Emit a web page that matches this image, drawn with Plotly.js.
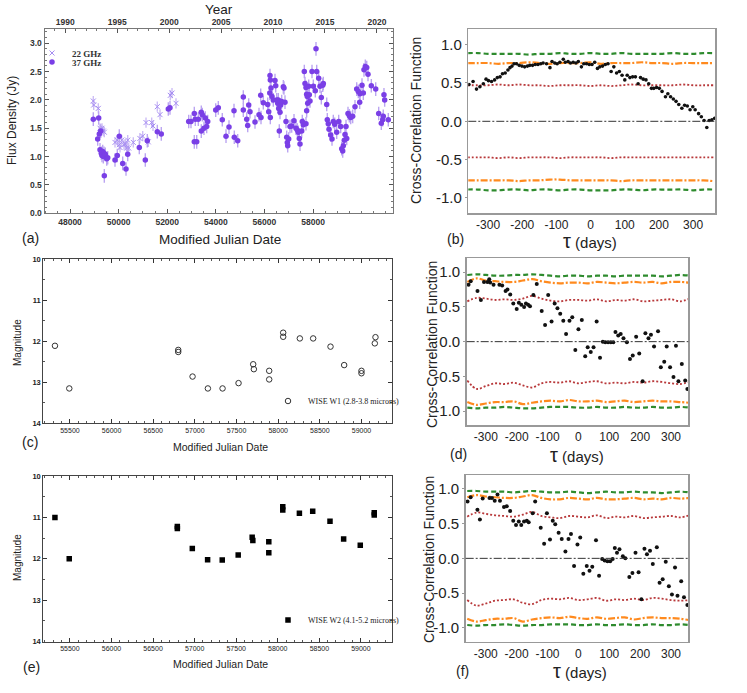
<!DOCTYPE html>
<html>
<head>
<meta charset="utf-8">
<script src="https://cdn.plot.ly/plotly-3.0.1.min.js"></script>
<style>html,body{margin:0;padding:0;background:#fff;}#plot{width:747px;height:693px;}</style>
</head>
<body>
<div id="plot"></div>
<script>
// ---------------- DATA ----------------
// Panel (a): radio light curves (x in the MJD units of the bottom axis as drawn)
const mjd37 = [48958,49139,49180,49205,49263,49234,49287,49345,49316,49398,49370,49452,49411,49510,49551,49851,49946,50028,50168,50304,50374,50851,51098,51180,51592,51756,52044,52114,52884,52978,53114,53114,53213,53155,53279,53402,53443,53402,53513,53567,53625,53666,53995,54102,
 54266,54419,54542,54748,54760,54900,55131,55131,55271,55312,55353,55406,55612,55777,55847,55859,55954,56135,56176,56229,56242,56270,56220,56242,56312,56365,56435,56464,56505,56546,56571,56587,56612,56641,56670,56711,56777,56805,56846,56888,56916,56941,56958,56998,57052,57122,57217,57299,57353,57394,57435,57464,57534,57558,57600,57641,57669,57710,57738,57764,57780,57738,57710,57822,57846,57875,57958,58011,58122,58094,58151,58233,58287,58341,58398,58423,58563,58587,58628,58657,58727,58781,58834,58892,58974,59056,59139,59180,59221,59246,59287,59316,59357,59386,59439,59493,59550,59632,59727,59797,59863,59933,60015,59920,60069,60097,60151,60209,60262,60398,60579,60702,60809,60866,60919,60948,60890,61097];
const flux37 = [1.66,1.31,1.68,1.40,1.45,1.12,1.06,1.09,1.02,1.06,1.00,1.04,0.66,0.96,0.98,0.94,1.02,1.36,0.88,0.78,1.04,1.16,0.94,1.28,1.44,1.40,1.84,1.86,1.62,1.62,1.76,1.26,1.26,1.66,1.66,1.78,1.74,1.45,1.50,1.68,1.53,1.62,1.82,1.86,
 1.65,1.36,1.52,1.81,1.34,1.28,2.05,1.82,1.66,1.55,1.91,1.79,1.61,1.74,2.08,1.69,1.95,1.92,1.79,2.43,2.35,2.21,2.12,1.69,2.06,2.00,2.34,2.25,2.00,1.94,2.00,1.85,1.45,1.78,1.91,1.97,2.23,2.21,1.96,1.62,1.34,1.25,1.19,1.31,1.53,1.54,1.63,1.50,1.47,1.43,1.32,1.22,1.45,1.62,1.56,2.50,2.29,2.22,2.10,2.06,1.94,1.81,1.58,2.24,2.09,1.98,2.50,2.24,2.90,2.16,2.50,2.38,2.24,2.04,2.26,2.29,1.92,1.65,1.58,1.48,1.38,1.31,1.62,1.57,1.43,1.62,1.53,1.14,1.10,1.19,1.29,1.39,1.53,1.32,1.76,1.72,1.69,1.71,1.88,2.19,2.15,2.11,2.26,1.96,2.12,2.53,2.59,2.57,2.45,2.25,2.19,1.76,1.59,1.65,2.09,2.00,1.71,1.65];
const err37 = 0.12;
const mjd22 = [48958,48975,49164,49234,49316,49370,49411,49851,49946,50028,50057,50127,50221,50275,50333,50374,50415,50604,50875,50991,51127,51221,51361,51415,51592,51703,52127,52197,52361];
const flux22 = [1.98,1.91,1.85,1.50,1.50,1.45,1.43,1.25,1.29,1.21,1.16,1.29,1.21,1.22,1.15,1.29,1.15,1.25,1.32,1.36,1.60,1.26,1.60,1.54,1.88,1.74,2.08,2.12,1.94];
const err22 = 0.09;
const mjdTicksA = [48000,50000,52000,54000,56000,58000];
const yearTicks = [1990,1995,2000,2005,2010,2015,2020];

// Panel (b): cross-correlation
const tauB = [-356,-344,-334,-324,-314,-306,-299,-290,-281,-273,-265,-258,-250,-242,-236,-230,-224,-217,-209,-201,-193,-185,-178,-170,-162,-154,-146,-139,-129,-119,-113,-105,-98,-90,-80,-74,-66,-59,-51,-43,-36,-27,-20,-12,-4,4,12,20,27,35,43,51,60,68,76,84,92,100,107,115,123,131,139,146,154,162,170,178,185,193,201,209,219,226,234,242,250,258,267,275,283,291,299,306,316,324,332,340,347,355,363];
const ccfB = [0.48,0.52,0.42,0.45,0.49,0.55,0.53,0.52,0.54,0.57,0.58,0.62,0.63,0.67,0.70,0.72,0.75,0.75,0.73,0.72,0.71,0.72,0.73,0.73,0.74,0.74,0.75,0.76,0.75,0.70,0.78,0.76,0.75,0.77,0.81,0.77,0.78,0.76,0.77,0.76,0.78,0.71,0.75,0.75,0.74,0.74,0.77,0.69,0.71,0.72,0.74,0.75,0.65,0.71,0.63,0.65,0.60,0.54,0.60,0.57,0.58,0.58,0.49,0.57,0.55,0.54,0.49,0.43,0.43,0.44,0.43,0.39,0.32,0.36,0.32,0.29,0.26,0.22,0.17,0.21,0.20,0.15,0.19,0.15,0.10,0.06,0.01,-0.08,0.01,0.02,0.04];

// Panel (d)
const tauD = [-356,-349,-327,-316,-306,-295,-289,-286,-275,-256,-247,-236,-230,-221,-211,-200,-193,-185,-176,-170,-163,-157,-146,-135,-119,-108,-98,-87,-77,-68,-59,-49,-40,-29,-20,-10,0,11,22,30,40,49,59,70,79,87,96,105,113,120,129,137,146,157,167,176,187,197,208,217,227,235,245,258,267,278,286,297,308,316,324,335,346,353];
const ccfD = [0.82,0.87,0.73,0.60,0.86,0.86,0.90,0.85,0.82,0.82,0.81,0.73,0.75,0.68,0.55,0.47,0.56,0.53,0.50,0.55,0.53,0.51,0.67,0.83,0.44,0.24,0.67,0.29,0.55,0.48,0.40,0.30,0.11,0.30,0.35,-0.12,0.18,0.31,-0.21,-0.08,-0.15,-0.08,0.29,-0.23,0.00,-0.01,-0.01,-0.01,-0.01,0.14,0.09,0.11,0.05,-0.01,-0.25,-0.20,0.07,-0.17,-0.57,0.12,0.05,0.10,-0.07,0.15,-0.37,-0.29,-0.07,-0.37,-0.51,-0.06,-0.57,-0.32,-0.56,-0.68];

// Panel (f)
const tauF = [-359,-349,-327,-319,-310,-288,-280,-271,-262,-254,-241,-232,-221,-211,-202,-193,-185,-176,-167,-161,-148,-140,-122,-111,-102,-92,-83,-75,-64,-54,-42,-32,-24,-14,-3,6,16,27,36,45,57,67,77,85,94,103,111,118,125,133,144,152,165,175,185,195,204,214,222,232,241,254,263,273,283,293,303,313,321,333,342,353];
const ccfF = [0.82,0.88,0.70,0.56,0.86,0.87,0.87,0.83,0.92,0.83,0.74,0.75,0.68,0.54,0.48,0.53,0.48,0.53,0.54,0.52,0.65,0.82,0.44,0.21,0.65,0.27,0.54,0.49,0.37,0.28,0.10,0.28,0.35,-0.11,0.20,0.30,-0.22,-0.11,-0.18,-0.12,0.26,-0.25,-0.01,-0.03,-0.04,-0.04,-0.01,0.15,0.08,0.13,0.03,0.00,-0.27,-0.21,0.08,-0.20,-0.59,0.14,0.06,0.11,-0.08,0.16,-0.35,-0.30,-0.05,-0.40,-0.52,-0.13,-0.54,-0.33,-0.56,-0.67];

// significance bands (tau grid, values per panel)
const tauGrid = [-360,-330,-300,-270,-240,-210,-180,-150,-120,-90,-60,-30,0,30,60,90,120,150,180,210,240,270,300,330,360];
const bGreenUp = [0.89,0.89,0.88,0.88,0.88,0.88,0.87,0.88,0.88,0.89,0.88,0.88,0.89,0.88,0.88,0.89,0.88,0.88,0.88,0.88,0.89,0.88,0.88,0.89,0.89];
const bOrangeUp = [0.76,0.76,0.76,0.75,0.76,0.76,0.77,0.76,0.75,0.76,0.76,0.76,0.77,0.75,0.76,0.76,0.76,0.77,0.76,0.76,0.75,0.76,0.76,0.76,0.76];
const bRedUp = [0.47,0.47,0.47,0.48,0.47,0.48,0.47,0.47,0.46,0.47,0.47,0.47,0.46,0.47,0.46,0.47,0.48,0.47,0.47,0.47,0.47,0.48,0.47,0.47,0.47];
const bRedLo = [-0.47,-0.47,-0.47,-0.48,-0.47,-0.48,-0.47,-0.47,-0.47,-0.48,-0.47,-0.47,-0.47,-0.47,-0.48,-0.47,-0.47,-0.47,-0.47,-0.47,-0.47,-0.47,-0.47,-0.47,-0.47];
const bOrangeLo = [-0.77,-0.77,-0.77,-0.77,-0.77,-0.78,-0.77,-0.77,-0.76,-0.76,-0.77,-0.77,-0.77,-0.77,-0.77,-0.78,-0.77,-0.77,-0.77,-0.77,-0.77,-0.77,-0.77,-0.77,-0.78];
const bGreenLo = [-0.89,-0.89,-0.90,-0.90,-0.89,-0.89,-0.90,-0.89,-0.89,-0.90,-0.89,-0.89,-0.90,-0.90,-0.90,-0.89,-0.89,-0.90,-0.89,-0.89,-0.89,-0.89,-0.90,-0.89,-0.89];

const dGreenUp = [0.96,0.97,0.96,0.95,0.95,0.96,0.96,0.97,0.96,0.95,0.94,0.95,0.95,0.94,0.95,0.95,0.94,0.95,0.95,0.95,0.95,0.94,0.95,0.96,0.95];
const dOrangeUp = [0.86,0.91,0.88,0.87,0.86,0.86,0.88,0.90,0.87,0.85,0.84,0.85,0.85,0.84,0.86,0.85,0.84,0.85,0.86,0.85,0.86,0.84,0.86,0.86,0.85];
const dRedUp = [0.58,0.63,0.62,0.60,0.61,0.60,0.62,0.66,0.62,0.59,0.58,0.60,0.60,0.59,0.61,0.58,0.60,0.59,0.61,0.58,0.59,0.60,0.61,0.58,0.62];
const dRedLo = [-0.56,-0.68,-0.64,-0.60,-0.61,-0.59,-0.63,-0.66,-0.60,-0.58,-0.59,-0.57,-0.60,-0.58,-0.57,-0.60,-0.59,-0.60,-0.58,-0.59,-0.57,-0.58,-0.60,-0.61,-0.58];
const dOrangeLo = [-0.87,-0.91,-0.89,-0.87,-0.87,-0.86,-0.90,-0.88,-0.86,-0.85,-0.86,-0.84,-0.86,-0.86,-0.85,-0.87,-0.86,-0.85,-0.87,-0.86,-0.85,-0.86,-0.86,-0.87,-0.88];
const dGreenLo = [-0.95,-0.96,-0.95,-0.95,-0.94,-0.95,-0.96,-0.96,-0.95,-0.94,-0.94,-0.94,-0.95,-0.95,-0.94,-0.95,-0.95,-0.94,-0.95,-0.95,-0.94,-0.95,-0.95,-0.94,-0.95];

const fGreenUp = [0.97,0.97,0.96,0.96,0.96,0.95,0.96,0.97,0.96,0.95,0.95,0.96,0.95,0.94,0.95,0.96,0.95,0.95,0.96,0.95,0.95,0.94,0.95,0.96,0.95];
const fOrangeUp = [0.88,0.91,0.89,0.88,0.87,0.87,0.89,0.91,0.87,0.85,0.85,0.87,0.86,0.85,0.87,0.85,0.85,0.86,0.87,0.85,0.86,0.85,0.87,0.86,0.87];
const fRedUp = [0.60,0.66,0.64,0.62,0.61,0.60,0.63,0.67,0.61,0.59,0.58,0.61,0.60,0.59,0.62,0.58,0.60,0.59,0.61,0.58,0.59,0.60,0.61,0.59,0.62];
const fRedLo = [-0.60,-0.68,-0.65,-0.61,-0.60,-0.59,-0.64,-0.66,-0.60,-0.58,-0.59,-0.57,-0.60,-0.59,-0.57,-0.61,-0.59,-0.60,-0.58,-0.60,-0.57,-0.58,-0.60,-0.61,-0.60];
const fOrangeLo = [-0.87,-0.91,-0.89,-0.87,-0.87,-0.86,-0.91,-0.88,-0.86,-0.85,-0.86,-0.84,-0.86,-0.87,-0.85,-0.87,-0.86,-0.85,-0.88,-0.86,-0.85,-0.86,-0.86,-0.87,-0.89];
const fGreenLo = [-0.96,-0.97,-0.96,-0.96,-0.95,-0.96,-0.97,-0.96,-0.96,-0.95,-0.95,-0.95,-0.96,-0.96,-0.95,-0.96,-0.96,-0.95,-0.96,-0.96,-0.95,-0.96,-0.96,-0.95,-0.96];

const tauTicks = [-300,-200,-100,0,100,200,300];
const tauTickText = ['-300','-200','-100','0','100','200','300'];
const ccfTicks = [-1,-0.5,0,0.5,1];
const ccfTickText = ['-1.0','-0.5','0.0','0.5','1.0'];

// Panel (c): WISE W1
const mjdW1 = [55320,55492,56800,56800,56972,57156,57332,57524,57700,57708,57892,57892,58060,58060,58260,58420,58628,58792,59000,59000,59168,59160];
const magW1 = [12.11,13.15,12.21,12.26,12.86,13.15,13.15,13.02,12.56,12.68,12.72,12.93,11.79,11.89,11.93,11.93,12.13,12.58,12.72,12.78,11.90,12.05];
// Panel (e): WISE W2
const mjdW2 = [55320,55492,56792,56792,56972,57156,57332,57524,57692,57700,57892,57892,58060,58060,58260,58420,58628,58792,58992,59160,59160];
const magW2 = [11.00,12.00,11.22,11.27,11.75,12.02,12.03,11.91,11.48,11.56,11.59,11.85,10.74,10.82,10.90,10.85,11.09,11.52,11.67,10.89,10.94];
const mjdTicksW = [55500,56000,56500,57000,57500,58000,58500,59000];
const magTicks = [10,11,12,13,14];

// ---------------- LAYOUT HELPERS ----------------
const W = 747, H = 693;
const fx = px => px / W;
const fy = py => 1 - py / H;

const traces = [];
// Panel a
traces.push({x: mjd22, y: flux22, type:'scatter', mode:'markers', name:'22 GHz', legend:'legend',
  xaxis:'x', yaxis:'y',
  marker:{symbol:'x-thin-open', size:5, color:'#a58cf2', line:{width:1, color:'#a58cf2'}},
  error_y:{type:'constant', value:err22, color:'#cdbdf6', thickness:1.4, width:0}});
traces.push({x: mjd37, y: flux37, type:'scatter', mode:'markers', name:'37 GHz', legend:'legend4',
  xaxis:'x', yaxis:'y',
  marker:{symbol:'circle', size:5.5, color:'#7a3fe6'},
  error_y:{type:'constant', value:err37, color:'#bba5f1', thickness:1.4, width:0}});
// carrier for the top (year) axis: no visible marks
traces.push({x: yearTicks, y: yearTicks.map(() => null), type:'scatter', mode:'markers', xaxis:'x7', yaxis:'y',
  showlegend:false, hoverinfo:'skip', marker:{opacity:0}});

function bands(xa, ya, gU, oU, rU, rL, oL, gL) {
  const g = {color:'#2e8b2e', width:2.2, dash:'5px,3px', shape:'spline'};
  const o = {color:'#ff8a1e', width:2.2, dash:'7px,2px,2px,2px', shape:'spline'};
  const r = {color:'#b8383a', width:1.8, dash:'2px,2px', shape:'spline'};
  [[gU,g],[oU,o],[rU,r],[rL,r],[oL,o],[gL,g]].forEach(([arr, ln]) => {
    traces.push({x: tauGrid, y: arr, type:'scatter', mode:'lines', line: ln,
      xaxis: xa, yaxis: ya, showlegend:false, hoverinfo:'skip'});
  });
}
bands('x2','y2', bGreenUp,bOrangeUp,bRedUp,bRedLo,bOrangeLo,bGreenLo);
traces.push({x: tauB, y: ccfB, type:'scatter', mode:'markers', xaxis:'x2', yaxis:'y2', showlegend:false,
  marker:{size:3.6, color:'#111'}});
// Panel c
traces.push({x: mjdW1, y: magW1, type:'scatter', mode:'markers', name:'WISE W1 (2.8-3.8 microns)', legend:'legend2',
  xaxis:'x3', yaxis:'y3', marker:{symbol:'circle-open', size:5.5, color:'#333', line:{width:1, color:'#333'}}});
// Panel d
bands('x4','y4', dGreenUp,dOrangeUp,dRedUp,dRedLo,dOrangeLo,dGreenLo);
traces.push({x: tauD, y: ccfD, type:'scatter', mode:'markers', xaxis:'x4', yaxis:'y4', showlegend:false,
  marker:{size:4, color:'#111'}});
// Panel e
traces.push({x: mjdW2, y: magW2, type:'scatter', mode:'markers', name:'WISE W2 (4.1-5.2 microns)', legend:'legend3',
  xaxis:'x5', yaxis:'y5', marker:{symbol:'square', size:5.5, color:'#000'}});
// Panel f
bands('x6','y6', fGreenUp,fOrangeUp,fRedUp,fRedLo,fOrangeLo,fGreenLo);
traces.push({x: tauF, y: ccfF, type:'scatter', mode:'markers', xaxis:'x6', yaxis:'y6', showlegend:false,
  marker:{size:4, color:'#111'}});

const base = {showgrid:false, zeroline:false, showline:true, fixedrange:true};
const tfA = {family:'Liberation Sans, Arial', size:8.5, color:'#333', weight:'bold'};
const tfW = {family:'Liberation Sans, Arial', size:7, color:'#222'};
const tfWy = {family:'Liberation Sans, Arial', size:7.5, color:'#222', weight:'bold'};
const tfCx = {family:'Liberation Sans, Arial', size:12, color:'#222'};
const tfCy = {family:'Liberation Sans, Arial', size:15, color:'#222'};

function ccfX(dom, anchor, range) {
  return Object.assign({}, base, {domain: dom, anchor: anchor, range: range, tickvals: tauTicks, ticktext: tauTickText,
    ticks:'', linecolor:'#999', linewidth:1.5, mirror:true, tickfont: tfCx});
}
function ccfY(dom, anchor) {
  return Object.assign({}, base, {domain: dom, anchor: anchor, range:[-1.2,1.2], tickvals: ccfTicks, ticktext: ccfTickText,
    ticks:'outside', ticklen:2, tickcolor:'#999', linecolor:'#999', linewidth:1.5, mirror:true, tickfont: tfCy});
}
function wiseX(dom, anchor) {
  return Object.assign({}, base, {domain: dom, anchor: anchor, range:[55180,59370], tickvals: mjdTicksW, tickformat:'d',
    ticks:'inside', ticklen:4, tickcolor:'#333', linecolor:'#444', linewidth:1, mirror:'ticks', tickfont: tfW,
    minor:{ticks:'inside', ticklen:2, tick0:55500, dtick:100, tickcolor:'#555'}});
}
function wiseY(dom, anchor) {
  return Object.assign({}, base, {domain: dom, anchor: anchor, range:[14,10], tickvals: magTicks,
    ticks:'inside', ticklen:4, tickcolor:'#333', linecolor:'#444', linewidth:1, mirror:'ticks', tickfont: tfWy,
    minor:{ticks:'inside', ticklen:2, dtick:0.5, tickcolor:'#555'}});
}

const layout = {
  width: W, height: H, margin:{l:0, r:0, t:0, b:0},
  paper_bgcolor:'#fff', plot_bgcolor:'#fff', showlegend:true, hovermode:false,
  font:{family:'Liberation Sans, Arial', color:'#222'},
  xaxis: Object.assign({}, base, {domain:[fx(44.5), fx(392.5)], anchor:'y', range:[46950, 61270],
    tickvals: mjdTicksA, tickformat:'d', ticks:'inside', ticklen:4, tickcolor:'#555', linecolor:'#777', linewidth:1,
    tickfont: tfA, minor:{ticks:'inside', ticklen:2, tick0:48000, dtick:500, tickcolor:'#777'}}),
  xaxis7: Object.assign({}, base, {overlaying:'x', side:'top', anchor:'y', range:[1988.0, 2021.5],
    tickvals: yearTicks, tickformat:'d', ticks:'inside', ticklen:4, tickcolor:'#555', linecolor:'#777', linewidth:1,
    tickfont: tfA, minor:{ticks:'inside', ticklen:2, tick0:1990, dtick:1, tickcolor:'#777'}}),
  yaxis: Object.assign({}, base, {domain:[fy(213.3), fy(29)], anchor:'x', range:[0, 3.25], dtick:0.5, tick0:0, tickformat:'.1f',
    ticks:'inside', ticklen:4, tickcolor:'#555', linecolor:'#777', linewidth:1, mirror:'ticks', tickfont: tfA,
    minor:{ticks:'inside', ticklen:2, dtick:0.1, tickcolor:'#777'}}),
  xaxis2: ccfX([fx(468.3), fx(715)], 'y2', [-358, 364]),
  yaxis2: ccfY([fy(213.3), fy(29.3)], 'x2'),
  xaxis3: wiseX([fx(43.3), fx(392.3)], 'y3'),
  yaxis3: wiseY([fy(423.3), fy(259.3)], 'x3'),
  xaxis4: ccfX([fx(466.7), fx(688.3)], 'y4', [-362, 356]),
  yaxis4: ccfY([fy(425), fy(258.3)], 'x4'),
  xaxis5: wiseX([fx(43.3), fx(391.7)], 'y5'),
  yaxis5: wiseY([fy(641.7), fy(476)], 'x5'),
  xaxis6: ccfX([fx(465.7), fx(688.3)], 'y6', [-365, 356]),
  yaxis6: ccfY([fy(641.7), fy(475)], 'x6'),
  legend:  {x: fx(32), y: fy(53), xanchor:'left', yanchor:'middle', bgcolor:'rgba(0,0,0,0)', itemwidth:30,
            font:{family:'Liberation Serif, serif', size:9, color:'#333', weight:'bold'}},
  legend4: {x: fx(32), y: fy(62), xanchor:'left', yanchor:'middle', bgcolor:'rgba(0,0,0,0)', itemwidth:30,
            font:{family:'Liberation Serif, serif', size:9, color:'#333', weight:'bold'}},
  legend2: {x: fx(268), y: fy(401), xanchor:'left', yanchor:'middle', bgcolor:'rgba(0,0,0,0)', itemwidth:30,
            font:{family:'Liberation Serif, serif', size:8, color:'#222'}},
  legend3: {x: fx(268), y: fy(620), xanchor:'left', yanchor:'middle', bgcolor:'rgba(0,0,0,0)', itemwidth:30,
            font:{family:'Liberation Serif, serif', size:8, color:'#222'}},
  shapes: ['2','4','6'].map(k => ({type:'line', xref:'x'+k+' domain', yref:'y'+k, x0:0, x1:1, y0:0, y1:0,
            line:{color:'#333', width:1, dash:'8px,2px,2px,2px'}})),
  annotations: []
};

function ann(text, px, py, size, extra) {
  layout.annotations.push(Object.assign({text: text, x: fx(px), y: fy(py), xref:'paper', yref:'paper',
    showarrow:false, xanchor:'center', yanchor:'middle',
    font:{family:'Liberation Sans, Arial', size: size, color:'#222'}}, extra || {}));
}
const tauTitle = '<span style="font-size:20px">τ</span> (days)';
ann('Year', 219, 9, 13.5);
ann('Modified Julian Date', 220, 239, 13.5);
ann('(a)', 30, 238, 14);
ann('Flux Density (Jy)', 12, 121, 12, {textangle:-90});
ann('Cross-Correlation Function', 416, 121, 14, {textangle:-90});
ann(tauTitle, 590, 241, 15);
ann('(b)', 455, 239, 14);
ann('Magnitude', 17, 343, 10, {textangle:-90});
ann('Modified Julian Date', 220, 447, 10.5);
ann('(c)', 30, 442, 14);
ann('Cross-Correlation Function', 432, 345, 14, {textangle:-90});
ann(tauTitle, 577, 455, 15);
ann('(d)', 458, 454, 14);
ann('Magnitude', 17, 558, 10, {textangle:-90});
ann('Modified Julian Date', 220, 664, 10.5);
ann('(e)', 31, 667, 14);
ann('Cross-Correlation Function', 429, 560, 14, {textangle:-90});
ann(tauTitle, 580, 671, 15);
ann('(f)', 462, 671, 14);

Plotly.newPlot('plot', traces, layout, {staticPlot:true, displayModeBar:false});
</script>
</body>
</html>
